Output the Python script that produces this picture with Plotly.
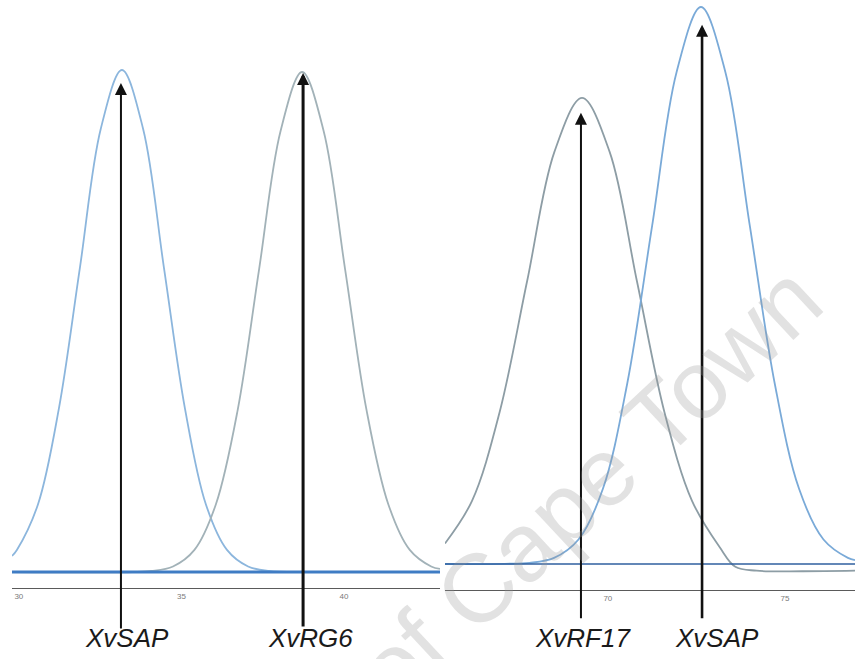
import plotly.graph_objects as go

# ---------------- data ----------------
# left panel: temperature axis and derivative melt curves
left_ticks = [30, 35, 40]
left_range_T = [29.79, 42.95]

xvsap1_T = [29.79, 29.94, 30.59, 31.23, 31.88, 32.52, 33.17, 33.82, 34.46, 35.11, 35.75, 36.40, 37.05, 37.69, 39.00, 42.95]
xvsap1_v = [0.032, 0.044, 0.135, 0.325, 0.607, 0.883, 1.000, 0.883, 0.607, 0.325, 0.135, 0.044, 0.011, 0.002, 0.0, 0.0]

xvrg6_T = [29.79, 33.50, 34.08, 34.74, 35.40, 36.06, 36.73, 37.39, 38.05, 38.71, 39.37, 40.03, 40.69, 41.36, 42.02, 42.68, 42.95]
xvrg6_v = [0.0, 0.0, 0.002, 0.011, 0.044, 0.135, 0.323, 0.604, 0.879, 0.996, 0.879, 0.604, 0.323, 0.135, 0.044, 0.011, 0.006]

left_base_T = [29.79, 42.95]
left_base_v = [0.0, 0.0]

# right panel
right_ticks = [70, 75]
right_range_T = [65.40, 76.98]

xvrf17_T = [65.40, 66.16, 66.94, 67.72, 68.49, 69.27, 70.05, 70.82, 71.60, 72.38, 73.16, 73.60, 74.20, 75.50, 76.98]
xvrf17_v = [0.037, 0.113, 0.272, 0.508, 0.740, 0.837, 0.740, 0.508, 0.272, 0.113, 0.030, -0.005, -0.012, -0.013, -0.012]

xvsap2_T = [65.40, 67.09, 67.79, 68.48, 69.17, 69.86, 70.55, 71.25, 71.94, 72.63, 73.32, 74.01, 74.71, 75.40, 76.09, 76.78, 76.98]
xvsap2_v = [0.0, 0.0003, 0.002, 0.011, 0.044, 0.135, 0.325, 0.607, 0.883, 1.000, 0.883, 0.607, 0.325, 0.135, 0.044, 0.011, 0.007]

right_base_T = [65.40, 76.98]
right_base_v = [0.0, 0.0]

# peak markers (arrow tips) and labels
peak_labels = ["XvSAP", "XvRG6", "XvRF17", "XvSAP"]
peak_T = [33.14, 38.74, 69.24, 72.66]
peak_tip = [0.974, 0.994, 0.810, 0.968]
peak_panel = ["left", "left", "right", "right"]
label_T = [33.32, 38.98, 69.29, 73.08]

# ---------------- figure ----------------
W, H = 855, 659
fig = go.Figure()

def curve(T, v, color, width, ax):
    fig.add_trace(go.Scatter(
        x=T, y=v, mode="lines", xaxis=ax[0], yaxis=ax[1],
        line=dict(color=color, width=width, shape="spline", smoothing=1.0),
        hoverinfo="skip", showlegend=False))

L = ("x", "y")
R = ("x2", "y2")
curve(xvsap1_T, xvsap1_v, "#8cb6dd", 1.8, L)
curve(xvrg6_T, xvrg6_v, "#a2b2b8", 1.8, L)
curve(left_base_T, left_base_v, "#3f7cc4", 3.2, L)
curve(xvrf17_T, xvrf17_v, "#8d9da5", 1.8, R)
curve(xvsap2_T, xvsap2_v, "#7aaad8", 1.8, R)
curve(right_base_T, right_base_v, "#2f5f9f", 1.6, R)

tickfont = dict(family="Liberation Sans, Arial, sans-serif", size=8, color="#7a7a7a")
fig.update_layout(
    width=W, height=H, autosize=False,
    margin=dict(l=0, r=0, t=0, b=0),
    paper_bgcolor="white", plot_bgcolor="white",
    showlegend=False,
    xaxis=dict(domain=[12 / W, 440 / W], range=left_range_T, tickvals=left_ticks,
               ticks="", showgrid=False, zeroline=False, showline=True,
               linecolor="#5a5a5a", linewidth=1, tickfont=tickfont, anchor="y"),
    yaxis=dict(domain=[1 - 588 / H, 1], range=[-0.0319, 1.1394], visible=False,
               anchor="x"),
    xaxis2=dict(domain=[445 / W, 1], range=right_range_T, tickvals=right_ticks,
                ticks="", showgrid=False, zeroline=False, showline=True,
                linecolor="#5a5a5a", linewidth=1, tickfont=tickfont, anchor="y2"),
    yaxis2=dict(domain=[1 - 590 / H, 1], range=[-0.0467, 1.0126], visible=False,
                anchor="x2"),
)

# arrows
arrow_px_tail = [630, 628, 620, 620]
arrow_tip_px = [83, 73, 113, 25]
arrow_w = [2.0, 3.0, 2.0, 2.6]
for i in range(4):
    xr, yr = ("x", "y") if peak_panel[i] == "left" else ("x2", "y2")
    fig.add_annotation(x=peak_T[i], y=peak_tip[i], xref=xr, yref=yr,
                       ax=0, ay=arrow_px_tail[i] - arrow_tip_px[i],
                       axref="pixel", ayref="pixel",
                       text="", showarrow=True, arrowhead=2,
                       arrowsize=2.4 / arrow_w[i], arrowwidth=arrow_w[i],
                       arrowcolor="#111111", standoff=0)

# labels
for i in range(4):
    xr = "x" if peak_panel[i] == "left" else "x2"
    fig.add_annotation(x=label_T[i], y=1 - 638 / H, xref=xr, yref="paper",
                       text=peak_labels[i], showarrow=False,
                       xanchor="center", yanchor="middle",
                       font=dict(family="Liberation Sans, Arial, sans-serif",
                                 size=26, color="#1a1a1a", style="italic"))

# watermark
fig.add_annotation(x=588 / W, y=1 - 485 / H, xref="paper", yref="paper",
                   text="of Cape Town", showarrow=False, textangle=-43,
                   xanchor="center", yanchor="middle",
                   font=dict(family="Liberation Sans, Arial, sans-serif",
                             size=97, color="rgba(150,150,150,0.28)"))

fig.write_html("out.html",
               config={"displayModeBar": False, "staticPlot": True},
               post_script="document.body.style.margin='0';document.body.style.overflow='hidden';")
